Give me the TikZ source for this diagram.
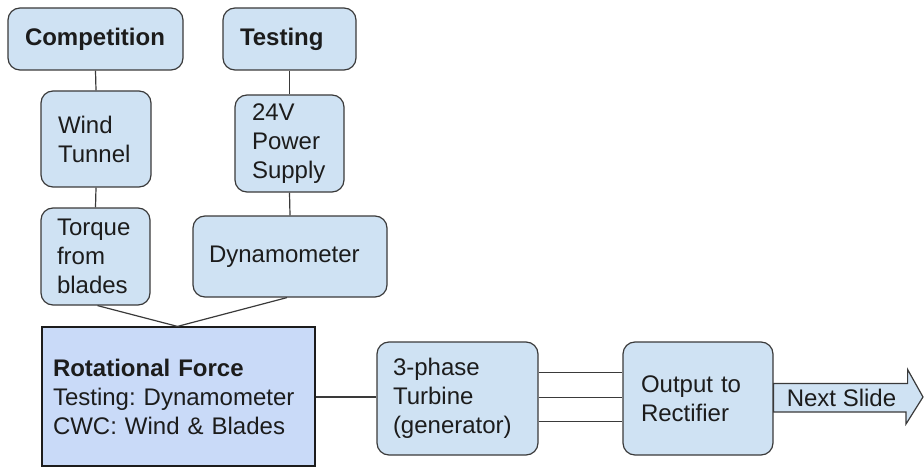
\documentclass[tikz,border=0pt]{standalone}
\usepackage{fontspec}
\setmainfont{Liberation Sans}
\frenchspacing
\definecolor{boxfill}{HTML}{CFE2F3}
\definecolor{forcefill}{HTML}{C9DAF8}
\definecolor{edge}{HTML}{3A3A3A}
\definecolor{ink}{HTML}{1C1C1C}
\begin{document}
\begin{tikzpicture}[x=1pt,y=-1pt,
  every node/.style={font=\fontsize{24pt}{29pt}\selectfont, text=ink},
  blk/.style={draw=edge, line width=1.2pt, fill=boxfill, rounded corners=12pt,
    align=left, inner xsep=17pt, inner ysep=0pt},
  force/.style={draw=ink, line width=1.2pt, fill=forcefill,
    align=left, inner xsep=11pt, inner ysep=0pt},
  wire/.style={draw=edge, line width=1.2pt}]
\useasboundingbox (0,0) rectangle (924,468);

% sources
\node[blk, text width=141pt, minimum width=175pt, minimum height=62pt] (comp) at (95.5,39) {\textbf{Competition}};
\node[blk, text width=99pt, minimum width=133pt, minimum height=62pt] (test) at (289.5,39) {\textbf{Testing}};

% drive chain
\node[blk, text width=76pt, minimum width=110pt, minimum height=96pt] (wind) at (96,139) {Wind\\Tunnel};
\node[blk, text width=75pt, minimum width=109pt, minimum height=97pt] (psu) at (289.5,143.5) {24V\\Power\\Supply};
\node[blk, inner xsep=16pt, text width=77pt, minimum width=109pt, minimum height=97pt] (torque) at (95.5,256.5) {Torque\\from\\blades};
\node[blk, inner xsep=16pt, text width=162pt, minimum width=194pt, minimum height=81pt] (dyno) at (290,256.5) {Dynamometer};

% rotational input
\node[force, text width=251pt, minimum width=273pt, minimum height=139pt] (rot) at (178.5,396.5)
  {\textbf{Rotational Force}\\Testing: Dynamometer\\CWC: Wind \& Blades};

% electrical side
\node[blk, inner xsep=16pt, text width=129pt, minimum width=161pt, minimum height=113pt] (gen) at (457.5,398.5) {3-phase\\Turbine\\(generator)};
\node[blk, inner xsep=18pt, text width=114pt, minimum width=150pt, minimum height=113pt] (out) at (698,398.5) {Output to\\Rectifier};

% connectors
\draw[wire] (comp.south) -- (wind.north);
\draw[wire] (test.south) -- (psu.north);
\draw[wire] (wind.south) -- (torque.north);
\draw[wire] (psu.south) -- (dyno.north);
\draw[wire] ([xshift=2pt]torque.south) -- ([xshift=-1pt]rot.north);
\draw[wire] ([xshift=-3pt]dyno.south) -- ([xshift=-1pt]rot.north);
\draw[wire] ([yshift=-0.5pt]rot.east) -- ([yshift=-0.5pt]rot.east -| gen.west);
\draw[wire] ([yshift=26pt]gen.east) -- ([yshift=26pt]out.west);
\draw[wire] ([yshift=1pt]gen.east) -- ([yshift=1pt]out.west);
\draw[wire] ([yshift=-23pt]gen.east) -- ([yshift=-23pt]out.west);

% block arrow leading on
\path[draw=edge, line width=1.2pt, fill=boxfill, line join=miter]
  ([yshift=15pt]out.east) -- ++(134,0) -- ++(0,-14) -- (923,397)
  -- (906,424) -- ++(0,-12) -- ([yshift=-13.5pt]out.east) -- cycle;
\node[anchor=west, inner sep=0pt] (next) at ([xshift=13pt,yshift=1pt]out.east) {Next Slide};
\end{tikzpicture}
\end{document}
